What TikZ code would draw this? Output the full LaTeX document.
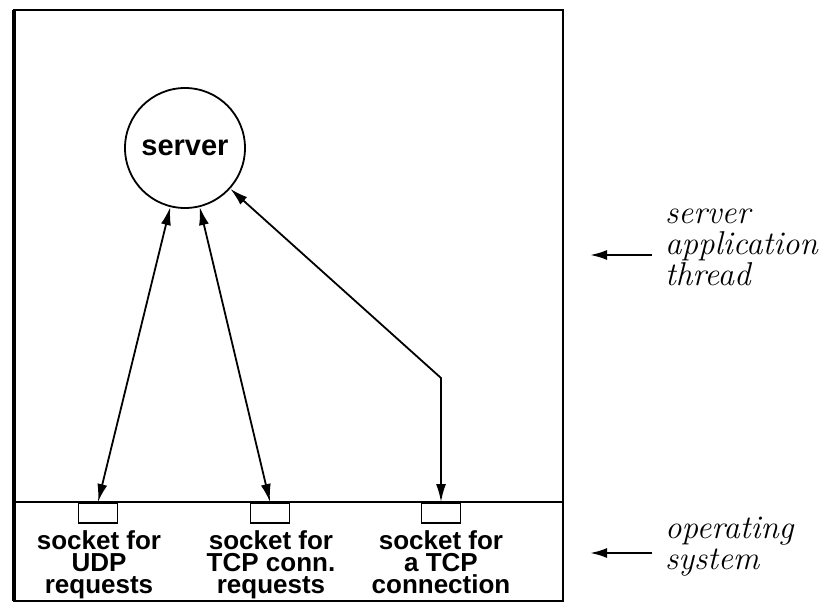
\documentclass[tikz,border=0pt]{standalone}
\usepackage{fontspec}
\newfontfamily\helv{Liberation Sans}
\usetikzlibrary{arrows.meta}
\begin{document}
\begin{tikzpicture}[x=1pt,y=-1pt,
  frame/.style={line width=2.4pt},
  sock/.style={draw,line width=1.8pt,minimum width=39pt,minimum height=20pt,inner sep=0pt,anchor=north},
  link/.style={line width=1.8pt,{Latex[length=18pt,width=10pt]}-{Latex[length=18pt,width=10pt]}},
  pointer/.style={line width=2.2pt,-{Latex[length=17pt,width=10pt]}},
  socklabel/.style={font=\helv\bfseries\fontsize{26}{22}\selectfont,align=center,inner sep=0pt,anchor=base},
  layerlabel/.style={font=\itshape\fontsize{33}{31}\selectfont,align=left,inner sep=0pt,anchor=base west},
]
\useasboundingbox (0,0) rectangle (826,603);
\draw[frame] (14,10) rectangle (563,601);
\draw[line width=3.4pt] (14,10) -- (14,601);
\coordinate (dl) at (14,502);
\coordinate (dr) at (563,502);
\draw[frame] (dl) -- (dr);

\node[circle,draw,line width=1.8pt,minimum size=120pt,inner sep=0pt,
      font=\helv\bfseries\fontsize{29}{30}\selectfont] (server) at (185,148) {server};

\node[sock] (udp) at (98,502) {};
\node[sock] (tcpc) at (270,502) {};
\node[sock] (tcp) at (441,502) {};

\draw[link] (server.-104) -- (udp.north);
\draw[link] (server.-76) -- (tcpc.north);
\coordinate (bend) at (441,378);
\draw[link] (server.-42) -- (bend) -- (tcp.north);

\node[socklabel] (udplab) at (99,593) {socket for\\UDP\\requests};
\node[socklabel] (tcpclab) at (271,593) {socket for\\TCP conn.\\requests};
\node[socklabel] (tcplab) at (441,593) {socket for\\a TCP\\connection};

\node[layerlabel] (applab) at (665,285) {server\\application\\thread};
\node[layerlabel] (oslab) at (665,569) {operating\\system};
\coordinate (appa) at (652,255);
\coordinate (appb) at (590,255);
\draw[pointer] (appa) -- (appb);
\coordinate (osa) at (652,553);
\coordinate (osb) at (590,553);
\draw[pointer] (osa) -- (osb);
\end{tikzpicture}
\end{document}
